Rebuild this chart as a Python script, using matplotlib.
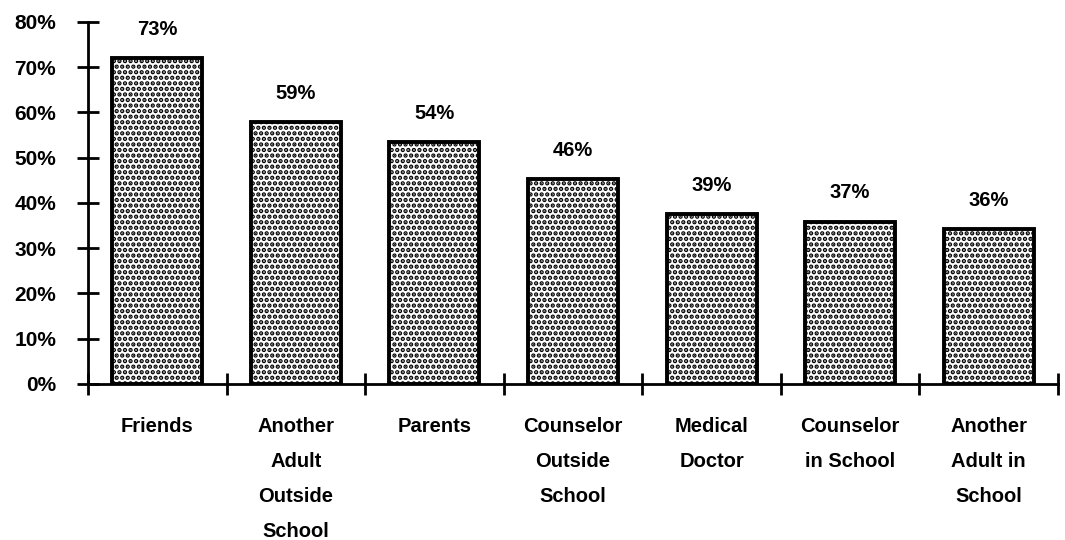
import matplotlib
matplotlib.use("Agg")
import matplotlib.pyplot as plt
import numpy as np

categories = ["Friends", "Another\nAdult\nOutside\nSchool", "Parents", "Counselor\nOutside\nSchool",
              "Medical\nDoctor", "Counselor\nin School", "Another\nAdult in\nSchool"]
bar_heights = [72.0, 57.8, 53.4, 45.3, 37.5, 35.9, 34.2]
value_labels = ["73%", "59%", "54%", "46%", "39%", "37%", "36%"]
y_ticks = [0, 10, 20, 30, 40, 50, 60, 70, 80]
y_tick_labels = ["0%", "10%", "20%", "30%", "40%", "50%", "60%", "70%", "80%"]

plt.rcParams['font.family'] = ['Liberation Sans', 'DejaVu Sans']
plt.rcParams['hatch.linewidth'] = 2.2

fig = plt.figure(figsize=(10.65, 5.4), dpi=100)
ax = fig.add_axes([0.0826, 0.2889, 0.9108, 0.6704])

x = np.arange(len(categories))
bars = ax.bar(x, bar_heights, width=0.65, color="white", edgecolor="black",
              linewidth=2.8, hatch="...")

for xi, h, lab in zip(x, bar_heights, value_labels):
    ax.annotate(lab, (xi, h), xytext=(0, 14), textcoords="offset points",
                ha="center", va="bottom", fontsize=14.5, fontweight="bold")

ax.set_xlim(-0.5, len(categories) - 0.5)
ax.set_ylim(0, 80)
ax.set_yticks(y_ticks)
ax.set_yticklabels(y_tick_labels, fontsize=15, fontweight="bold")
ax.set_xticks(x)
ax.set_xticklabels(categories, fontsize=14.5, fontweight="bold", linespacing=2.05, va="top")
ax.tick_params(axis="x", length=0, pad=24)
ax.set_xticks(np.arange(-0.5, len(categories)), minor=True)
ax.tick_params(axis="x", which="minor", direction="inout", length=16, width=2)
ax.tick_params(axis="y", direction="inout", length=16, width=2, pad=15)

for s in ["top", "right"]:
    ax.spines[s].set_visible(False)
for s in ["left", "bottom"]:
    ax.spines[s].set_linewidth(2)
ax.spines["left"].set_bounds(0, 80)

fig.savefig("out.png", dpi=100, facecolor="white")
